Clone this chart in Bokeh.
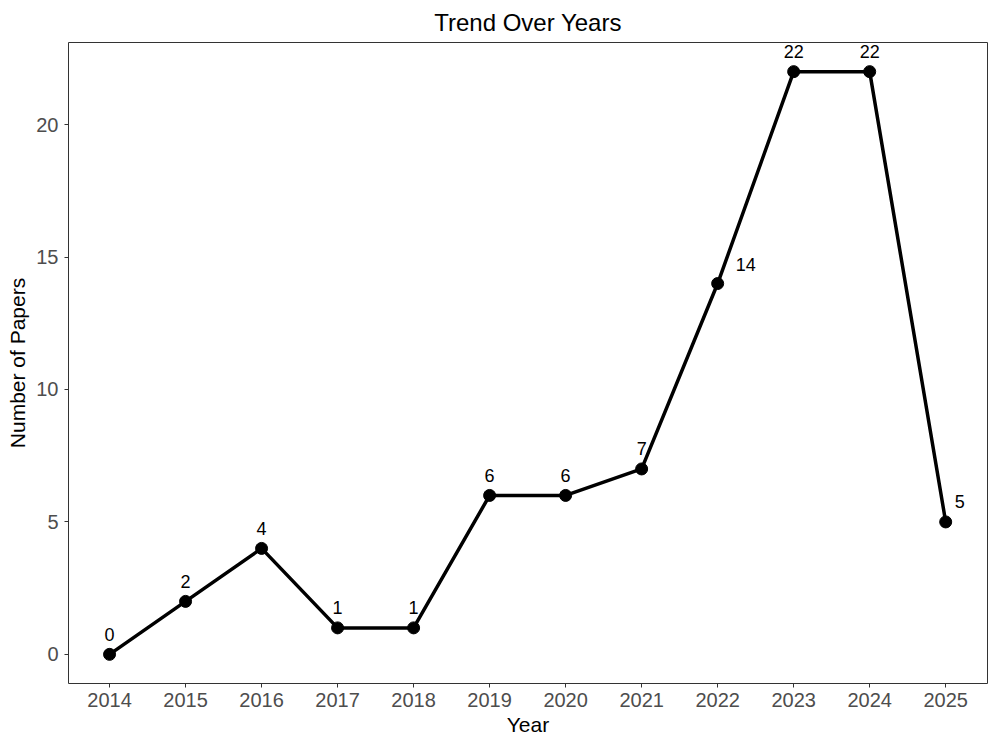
from bokeh.plotting import figure
from bokeh.models import ColumnDataSource, FixedTicker, Range1d
from bokeh.core.properties import value
from bokeh.embed import file_html
from bokeh.resources import INLINE

years = [2014, 2015, 2016, 2017, 2018, 2019, 2020, 2021, 2022, 2023, 2024, 2025]
papers = [0, 2, 4, 1, 1, 6, 6, 7, 14, 22, 22, 5]
y_ticks = [0, 5, 10, 15, 20]

# label nudges (style): labels to the right for 2022 and 2025
label_dx = [0, 0, 0, 0, 0, 0, 0, 0, 28, 0, 0, 14]
label_dy = [-20, -20, -20, -20, -20, -20, -20, -20, -19, -20, -20, -20]

src = ColumnDataSource(dict(x=years, y=papers, lab=[str(v) for v in papers],
                            dx=label_dx, dy=label_dy))

FONT = "Liberation Sans"

p = figure(width=997, height=747, output_backend="svg", toolbar_location=None,
           title="Trend Over Years",
           x_range=Range1d(2013.46, 2025.55), y_range=Range1d(-1.1, 23.1),
           min_border_left=68, min_border_right=10, min_border_top=42, min_border_bottom=64)

p.line("x", "y", source=src, line_color="black", line_width=3.5)
p.scatter("x", "y", source=src, size=12, fill_color="black", line_color="black")
p.text("x", "y", text="lab", source=src, x_offset="dx", y_offset="dy",
       text_align="center", text_baseline="middle", text_font_size="18px",
       text_color="black", text_font=value(FONT))

p.title.align = "center"
p.title.text_font = FONT
p.title.text_font_size = "24px"
p.title.text_font_style = "normal"
p.title.text_color = "black"
p.title.standoff = 13

p.xgrid.visible = False
p.ygrid.visible = False
p.outline_line_color = "#333333"
p.outline_line_width = 1

p.xaxis.ticker = FixedTicker(ticks=years)
p.yaxis.ticker = FixedTicker(ticks=y_ticks)
for ax in (p.xaxis, p.yaxis):
    ax.axis_line_color = None
    ax.major_tick_line_color = "#333333"
    ax.major_tick_out = 4
    ax.major_tick_in = 0
    ax.minor_tick_line_color = None
    ax.major_label_text_font = FONT
    ax.major_label_text_font_size = "20px"
    ax.major_label_text_color = "#4D4D4D"
    ax.axis_label_text_font = FONT
    ax.axis_label_text_font_size = "21px"
    ax.axis_label_text_font_style = "normal"
    ax.axis_label_text_color = "black"

p.xaxis.axis_label = "Year"
p.yaxis.axis_label = "Number of Papers"
p.xaxis.major_label_standoff = 5
p.yaxis.major_label_standoff = 6
p.xaxis.axis_label_standoff = 3
p.yaxis.axis_label_standoff = 4

open("out.html", "w").write(file_html(p, INLINE))
